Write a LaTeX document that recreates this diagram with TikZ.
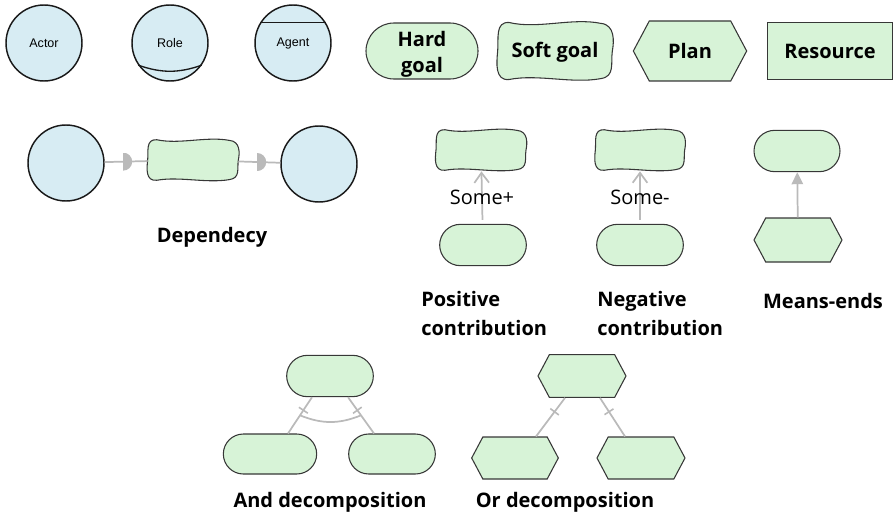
\documentclass[tikz,border=0pt]{standalone}
\usepackage{fontspec}
\setmainfont{Open Sans}
\newfontfamily\arialfont{Liberation Sans}
\usetikzlibrary{shapes.misc,shapes.symbols,arrows.meta,decorations.markings}
\definecolor{actorblue}{RGB}{215,236,243}
\definecolor{goalgreen}{RGB}{215,243,215}
\definecolor{linkgray}{RGB}{186,186,186}
\definecolor{edgegray}{RGB}{55,55,55}
\begin{document}
\begin{tikzpicture}[x=0.75pt,y=-0.75pt,
    actor/.style={circle,draw=black!90,line width=1.1pt,fill=actorblue,minimum size=57pt,inner sep=0pt,
        font=\arialfont\fontsize{9.4}{11}\selectfont},
    actorline/.style={black!90,line width=1pt},
    hardgoal/.style 2 args={rounded rectangle,draw=edgegray,line width=.8pt,fill=goalgreen,
        minimum width=#1,minimum height=#2,inner sep=0pt},
    softgoal/.style 2 args={rectangle,minimum width=#1+6pt,minimum height=#2+6pt,inner sep=0pt,outer sep=-3pt,
        path picture={\draw[edgegray,fill=goalgreen,line width=.8pt,shift={(path picture bounding box.center)},x=#1/2,y=-#2/2]
            (-0.8,-0.95) .. controls (-0.3,-0.72) and (0.3,-1.12) .. (0.8,-0.92)
            .. controls (1.05,-0.88) and (1.03,-0.3) .. (1,0)
            .. controls (0.97,0.4) and (1.05,0.85) .. (0.8,0.92)
            .. controls (0.3,1.1) and (-0.3,0.76) .. (-0.8,0.95)
            .. controls (-1.05,1) and (-1.02,0.4) .. (-1,0)
            .. controls (-0.98,-0.4) and (-1.05,-0.98) .. (-0.8,-0.95) -- cycle;}},
    plan/.style 2 args={signal,signal to=east and west,signal pointer angle=124,draw=edgegray,line width=.8pt,
        fill=goalgreen,minimum width=#1,minimum height=#2,inner sep=0pt},
    resource/.style={rectangle,draw=edgegray,line width=.8pt,fill=goalgreen,minimum width=94pt,minimum height=43pt},
    elabel/.style={font=\bfseries\fontsize{15}{19}\selectfont},
    caption/.style={inner sep=0pt,font=\bfseries\fontsize{15}{21.75}\selectfont},
    contrib/.style={inner sep=0pt,font=\fontsize{15}{18}\selectfont},
    link/.style={draw=linkgray,line width=1.3pt},
    depmark/.style={circle,minimum size=13.5pt,inner sep=0pt,
        path picture={\fill[linkgray] (path picture bounding box.north) rectangle (path picture bounding box.south east);}},
    decomptick/.style={postaction={decorate},decoration={markings,
        mark=at position .36 with {\draw[linkgray,line width=1.2pt] (0,-4pt) -- (0,4pt);}}}]
    \useasboundingbox (0,0) rectangle (895,524);
    % element legend
    \node[actor] (actor) at (44,43) {Actor};
    \node[actor] (role) at (170,43) {Role};
    \draw[actorline] (role.-145) to[bend right=19] (role.-35);
    \node[actor] (agent) at (293,43) {Agent};
    \draw[actorline] (agent.148) -- (agent.32);
    \node[hardgoal={84pt}{42pt},label={[elabel,align=center,yshift=-2.5pt]center:Hard\\goal}] (hard) at (422,51) {};
    \node[softgoal={86pt}{45pt},label={[elabel,yshift=-1pt]center:Soft goal}] (soft) at (555,51) {};
    \node[plan={85pt}{45pt},elabel] (plan) at (690,51) {Plan};
    \node[resource,elabel] (res) at (830,51) {Resource};
    % dependency
    \node[actor] (depA) at (66,163) {};
    \node[softgoal={68pt}{32pt}] (depsg) at (193,160) {};
    \node[actor] (depB) at (319,164) {};
    \draw[link] (depA) -- node[depmark,pos=.43] (dm1) {} (depsg)
        -- node[depmark,pos=.45] (dm2) {} (depB);
    \node[caption] (depcap) at (212,237) {Dependecy};
    % contributions
    \node[softgoal={67.5pt}{32pt}] (possg) at (481,150) {};
    \node[hardgoal={65pt}{31pt}] (poshg) at (483,245) {};
    \draw[link,shorten <=3pt,-{Straight Barb[length=7.5pt,width=11pt]}] (poshg) -- node[contrib] (poslab) {Some+} (possg);
    \node[softgoal={67pt}{32pt}] (negsg) at (640,150) {};
    \node[hardgoal={65pt}{31pt}] (neghg) at (640,245) {};
    \draw[link,shorten <=3pt,-{Straight Barb[length=7.5pt,width=11pt]}] (neghg) -- node[contrib] (neglab) {Some-} (negsg);
    \node[caption,align=left,anchor=north west] (poscap) at (421,291) {Positive\\contribution};
    \node[caption,align=left,anchor=north west] (negcap) at (597,291) {Negative\\contribution};
    % means-ends
    \node[hardgoal={64.5pt}{31pt}] (meg) at (797,151) {};
    \node[plan={66pt}{33pt}] (mep) at (798,240) {};
    \draw[link,-{Triangle[length=9pt,width=8.5pt]}] (mep) -- (meg);
    \node[caption] (mecap) at (823,301) {Means-ends};
    % and decomposition
    \node[hardgoal={65pt}{31pt}] (andtop) at (330,376) {};
    \node[hardgoal={70pt}{30pt}] (andl) at (270,454) {};
    \node[hardgoal={65pt}{30pt}] (andr) at (392,454) {};
    \draw[link,decomptick] ([xshift=-13.5pt]andtop.south) -- coordinate[pos=.5] (andl') ([xshift=13.5pt]andl.north);
    \draw[link,decomptick] ([xshift=13.5pt]andtop.south) -- coordinate[pos=.5] (andr') ([xshift=-13.5pt]andr.north);
    \draw[link] (andl') to[bend right=22] (andr');
    \node[caption] (andcap) at (330,502) {And decomposition};
    % or decomposition
    \node[plan={66pt}{32pt}] (ortop) at (582,376) {};
    \node[plan={65pt}{31.5pt}] (orl) at (515,458) {};
    \node[plan={66pt}{31.5pt}] (orr) at (641,458) {};
    \draw[link,decomptick] ([xshift=-12.75pt]ortop.south) -- ([xshift=15.75pt]orl.north);
    \draw[link,decomptick] ([xshift=13.5pt]ortop.south) -- ([xshift=-12pt]orr.north);
    \node[caption] (orcap) at (565,502) {Or decomposition};
\end{tikzpicture}
\end{document}
